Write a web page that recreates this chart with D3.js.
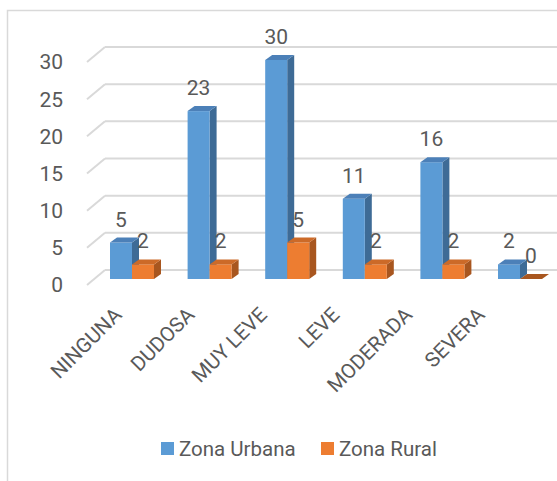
<!DOCTYPE html>
<html>
<head>
<meta charset="utf-8">
<script src="https://cdn.jsdelivr.net/npm/d3@7"></script>
<style>
	body { margin: 0; background: #fff; }
	svg text { font-family: Roboto, "Open Sans", sans-serif; fill: #595959; }
</style>
</head>
<body>
<div id="chart"></div>
<script>
// data
var categories = ["NINGUNA", "DUDOSA", "MUY LEVE", "LEVE", "MODERADA", "SEVERA"];
var seriesNames = ["Zona Urbana", "Zona Rural"];
var urbana = [5, 23, 30, 11, 16, 2];
var rural = [2, 2, 5, 2, 2, 0];
var yTicks = [0, 5, 10, 15, 20, 25, 30];

var colors = {
	"Zona Urbana": { front: "#5B9BD5", side: "#3E6B96", top: "#4C80B8" },
	"Zona Rural": { front: "#ED7D31", side: "#A8561F", top: "#CC6A28" }
};

var width = 557, height = 481;
var depth = { x: 18, y: -15 };   // wall depth
var barDepth = { x: 7, y: -5 };  // bar depth

var svg = d3.select("#chart").append("svg")
	.attr("width", width)
	.attr("height", height);

// chart border
svg.append("rect")
	.attr("x", 7.5).attr("y", 10.5)
	.attr("width", 600).attr("height", 600)
	.attr("fill", "none")
	.attr("stroke", "#D9D9D9")
	.attr("stroke-width", 1.5);

// scales
var yFront = d3.scaleLinear().domain([0, 30]).range([285, 62]);
var yBack = d3.scaleLinear().domain([0, 30]).range([270, 47]);
var yBar = d3.scaleLinear().domain([0, 30]).range([279, 60]);
var frontX = 87;

var x0 = d3.scaleBand()
	.domain(categories)
	.range([93.2, 558.8])
	.paddingInner(0.433)
	.paddingOuter(0.2165);

var x1 = d3.scaleBand()
	.domain(seriesNames)
	.range([0, x0.bandwidth()]);

var xLabel = d3.scalePoint()
	.domain(categories)
	.range([123, 486]);

// gridlines (back wall + floor diagonals)
var grid = svg.append("g").attr("class", "grid");
yTicks.forEach(function(v) {
	grid.append("line")
		.attr("x1", frontX + depth.x).attr("x2", width)
		.attr("y1", yBack(v)).attr("y2", yBack(v))
		.attr("stroke", "#D9D9D9").attr("stroke-width", 2);
	grid.append("line")
		.attr("x1", frontX).attr("x2", frontX + depth.x)
		.attr("y1", yFront(v)).attr("y2", yBack(v))
		.attr("stroke", "#D9D9D9").attr("stroke-width", 2);
});

// y tick labels
svg.append("g").selectAll("text")
	.data(yTicks)
	.enter()
	.append("text")
	.attr("x", 63)
	.attr("y", function(d) { return yFront(d); })
	.attr("dy", "0.35em")
	.attr("text-anchor", "end")
	.style("font-size", "21px")
	.text(function(d) { return d; });

// bars
var rows = [];
categories.forEach(function(c, i) {
	rows.push({ cat: c, series: "Zona Urbana", value: urbana[i] });
	rows.push({ cat: c, series: "Zona Rural", value: rural[i] });
});

var bars = svg.append("g").attr("class", "bars");
rows.forEach(function(d) {
	var xl = x0(d.cat) + x1(d.series);
	var xr = xl + x1.bandwidth();
	var yb = yBar(0);
	var yt = yBar(d.value);
	var dx = barDepth.x, dy = barDepth.y;
	var col = colors[d.series];
	var g = bars.append("g");
	// side face
	g.append("path")
		.attr("d", "M" + xr + "," + yb + "L" + (xr + dx) + "," + (yb + dy) +
			"L" + (xr + dx) + "," + (yt + dy) + "L" + xr + "," + yt + "Z")
		.attr("fill", col.side);
	// front face
	g.append("rect")
		.attr("x", xl).attr("y", yt)
		.attr("width", xr - xl).attr("height", yb - yt)
		.attr("fill", col.front);
	// top face
	g.append("path")
		.attr("d", "M" + xl + "," + yt + "L" + (xl + dx) + "," + (yt + dy) +
			"L" + (xr + dx) + "," + (yt + dy) + "L" + xr + "," + yt + "Z")
		.attr("fill", d.value === 0 ? col.side : col.top);
});

// data labels
svg.append("g").selectAll("text")
	.data(rows)
	.enter()
	.append("text")
	.attr("x", function(d) { return x0(d.cat) + x1(d.series) + x1.bandwidth() / 2; })
	.attr("y", function(d) { return yBar(d.value) - 16; })
	.attr("text-anchor", "middle")
	.style("font-size", "21px")
	.text(function(d) { return d.value; });

// category labels
svg.append("g").selectAll("text")
	.data(categories)
	.enter()
	.append("text")
	.attr("transform", function(d) { return "translate(" + xLabel(d) + ",316) rotate(-45)"; })
	.attr("text-anchor", "end")
	.style("font-size", "20.5px")
	.text(function(d) { return d; });

// legend
var legend = svg.append("g").attr("class", "legend");
var legendX = [161, 321];
seriesNames.forEach(function(s, i) {
	legend.append("rect")
		.attr("x", legendX[i]).attr("y", 442)
		.attr("width", 13).attr("height", 13)
		.attr("fill", colors[s].front);
	legend.append("text")
		.attr("x", legendX[i] + 18).attr("y", 449)
		.attr("dy", "0.35em")
		.style("font-size", "20.5px")
		.text(s);
});
</script>
</body>
</html>
